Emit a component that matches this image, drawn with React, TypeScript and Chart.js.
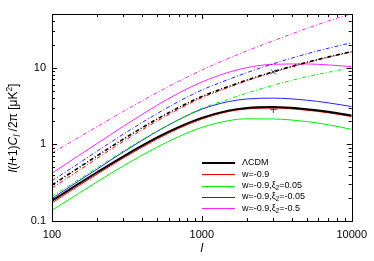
import React, { useEffect, useRef } from "react";
import { Chart, registerables } from "chart.js";

Chart.register(...registerables);

// multipoles
const ells = [100, 150, 200, 300, 500, 700, 1000, 1500, 2000, 3000, 5000, 7000, 10000];

// solid curves
const lcdmSolid = [0.184, 0.304, 0.432, 0.698, 1.22, 1.675, 2.21, 2.75, 2.98, 3.06, 2.87, 2.65, 2.37];
const w09Solid = [0.172, 0.286, 0.408, 0.663, 1.165, 1.608, 2.133, 2.668, 2.891, 2.968, 2.784, 2.571, 2.299];
const xiP05Solid = [0.138, 0.228, 0.324, 0.524, 0.915, 1.256, 1.66, 2.03, 2.15, 2.14, 1.98, 1.8, 1.565];
const xiM05Solid = [0.197, 0.33, 0.475, 0.796, 1.464, 2.09, 2.87, 3.6, 3.9, 4.0, 3.76, 3.47, 3.1];
const xiM5Solid = [0.42, 0.708, 1.025, 1.72, 3.21, 4.65, 6.49, 8.65, 9.99, 11.05, 11.16, 10.84, 10.3];

// dash-dot curves
const lcdmDash = [0.295, 0.492, 0.708, 1.172, 2.12, 3.01, 4.2, 5.66, 6.89, 8.85, 11.7, 13.8, 16.2];
const w09Dash = [0.27, 0.452, 0.655, 1.095, 2.0, 2.87, 4.05, 5.5, 6.75, 8.7, 11.55, 13.65, 16.0];
const xiP05Dash = [0.21, 0.345, 0.495, 0.82, 1.48, 2.1, 2.95, 3.85, 4.65, 5.9, 7.6, 8.7, 10.0];
const xiM05Dash = [0.335, 0.561, 0.814, 1.36, 2.5, 3.61, 5.1, 6.99, 8.61, 11.24, 15.1, 17.9, 21.1];
const xiM5Dash = [0.77, 1.224, 1.7, 2.69, 4.69, 6.61, 9.29, 13.15, 16.55, 22.4, 32.3, 40.6, 50.5];

// single markers
const crossPoint = [{ x: 3000, y: 8.8 }];
const plusPoint = [{ x: 3000, y: 2.85 }];

const legendLabels = ["ΛCDM", "w=-0.9", "w=-0.9,ξ₂=0.05", "w=-0.9,ξ₂=-0.05", "w=-0.9,ξ₂=-0.5"];
const seriesColors = ["#000000", "#ff0000", "#00ee00", "#2222ff", "#ff22ff"];

const xTickValues = [100, 1000, 10000];
const xTickLabels = ["100", "1000", "10000"];
const yTickValues = [0.1, 1, 10];
const yTickLabels = ["0.1", "1", "10"];

const FONT = "'Liberation Sans', Arial, sans-serif";
const DASHDOT = [4, 2, 1, 2];

function pairs(vals: number[]) {
  return vals.map((v, i) => ({ x: ells[i], y: v }));
}

function drawRich(ctx: CanvasRenderingContext2D, text: string, x: number, y: number, size: number) {
  const parts = text.split("₂");
  let cx = x;
  parts.forEach((p, i) => {
    ctx.font = `${size}px ${FONT}`;
    ctx.fillText(p, cx, y);
    cx += ctx.measureText(p).width;
    if (i < parts.length - 1) {
      ctx.font = `${size * 0.7}px ${FONT}`;
      ctx.fillText("2", cx, y + size * 0.3);
      cx += ctx.measureText("2").width;
    }
  });
}

const decorPlugin = {
  id: "decor",
  afterDatasetsDraw(chart: any) {
    const ctx: CanvasRenderingContext2D = chart.ctx;
    const { left, right, top, bottom } = chart.chartArea;
    const xs = chart.scales.x;
    const ys = chart.scales.y;
    ctx.save();
    ctx.strokeStyle = "#000";
    ctx.lineWidth = 1;
    ctx.strokeRect(Math.round(left) + 0.5, Math.round(top) + 0.5, Math.round(right - left), Math.round(bottom - top));
    ctx.beginPath();
    for (let d = 100; d <= 10000; d *= 10) {
      for (let m = 1; m <= 9; m++) {
        const v = d * m;
        if (v > 10000) break;
        const px = Math.round(xs.getPixelForValue(v)) + 0.5;
        const len = m === 1 ? 5 : 3;
        ctx.moveTo(px, bottom);
        ctx.lineTo(px, bottom - len);
        ctx.moveTo(px, top);
        ctx.lineTo(px, top + len);
      }
    }
    for (let d = 0.1; d <= 10.01; d *= 10) {
      for (let m = 1; m <= 9; m++) {
        const v = d * m;
        if (v > 50.01) break;
        const py = Math.round(ys.getPixelForValue(v)) + 0.5;
        const len = m === 1 ? 5 : 3;
        ctx.moveTo(left, py);
        ctx.lineTo(left + len, py);
        ctx.moveTo(right, py);
        ctx.lineTo(right - len, py);
      }
    }
    ctx.stroke();

    // legend
    ctx.fillStyle = "#000";
    ctx.textBaseline = "middle";
    ctx.textAlign = "left";
    const rowY = [163, 174.3, 185.6, 197, 208.3];
    legendLabels.forEach((lab, i) => {
      ctx.beginPath();
      ctx.strokeStyle = seriesColors[i];
      ctx.lineWidth = i === 0 ? 2 : 1;
      const y = i === 0 ? Math.round(rowY[i]) : Math.round(rowY[i]) + 0.5;
      ctx.moveTo(202, y);
      ctx.lineTo(235, y);
      ctx.stroke();
      ctx.fillStyle = "#000";
      drawRich(ctx, lab, 242, rowY[i], 9);
    });

    // x title
    ctx.font = `italic 12px ${FONT}`;
    ctx.textAlign = "center";
    ctx.textBaseline = "alphabetic";
    ctx.fillText("l", (left + right) / 2, 252);

    // y title
    ctx.translate(17, 128);
    ctx.rotate(-Math.PI / 2);
    const size = 12;
    const parts: { t: string; style: string; dy: number; s: number }[] = [
      { t: "l", style: "italic", dy: 0, s: size },
      { t: "(", style: "", dy: 0, s: size },
      { t: "l", style: "italic", dy: 0, s: size },
      { t: "+1)", style: "", dy: 0, s: size },
      { t: "C", style: "italic", dy: 0, s: size },
      { t: "l", style: "italic", dy: 3, s: size * 0.75 },
      { t: " /2π [μK", style: "", dy: 0, s: size },
      { t: "2", style: "", dy: -5, s: size * 0.7 },
      { t: "]", style: "", dy: 0, s: size },
    ];
    let total = 0;
    parts.forEach((p) => {
      ctx.font = `${p.style} ${p.s}px ${FONT}`;
      total += ctx.measureText(p.t).width;
    });
    let cx = -total / 2;
    ctx.textAlign = "left";
    parts.forEach((p) => {
      ctx.font = `${p.style} ${p.s}px ${FONT}`;
      ctx.fillText(p.t, cx, p.dy);
      cx += ctx.measureText(p.t).width;
    });
    ctx.restore();
  },
};

export default function App() {
  const ref = useRef<HTMLCanvasElement | null>(null);
  useEffect(() => {
    if (!ref.current) return;
    const mk = (data: number[], color: string, width: number, dashed: boolean) => ({
      data: pairs(data),
      borderColor: color,
      backgroundColor: color,
      borderWidth: width,
      borderDash: dashed ? DASHDOT : [],
      pointRadius: 0,
      fill: false,
      cubicInterpolationMode: "monotone" as const,
    });
    const chart = new Chart(ref.current, {
      type: "line",
      data: {
        datasets: [
          mk(lcdmSolid, seriesColors[0], 2, false),
          mk(lcdmDash, seriesColors[0], 1.6, true),
          {
            data: crossPoint,
            showLine: false,
            pointStyle: "crossRot",
            pointRadius: 3.5,
            borderColor: "#444",
            borderWidth: 1,
          } as any,
          {
            data: plusPoint,
            showLine: false,
            pointStyle: "cross",
            pointRadius: 3.5,
            borderColor: "#444",
            borderWidth: 1,
          } as any,
          mk(w09Solid, seriesColors[1], 1, false),
          mk(w09Dash, seriesColors[1], 1, true),
          mk(xiP05Solid, seriesColors[2], 1, false),
          mk(xiP05Dash, seriesColors[2], 1, true),
          mk(xiM05Solid, seriesColors[3], 1, false),
          mk(xiM05Dash, seriesColors[3], 1, true),
          mk(xiM5Solid, seriesColors[4], 1, false),
          mk(xiM5Dash, seriesColors[4], 1, true),
        ],
      },
      options: {
        responsive: false,
        animation: false,
        devicePixelRatio: 1,
        layout: { padding: { top: 14, right: 22, left: 0, bottom: 0 } },
        plugins: { legend: { display: false }, tooltip: { enabled: false } },
        scales: {
          x: {
            type: "logarithmic",
            min: 100,
            max: 10000,
            grid: { display: false, drawTicks: false },
            border: { display: false },
            ticks: {
              padding: 7,
              color: "#000",
              font: { family: FONT, size: 11 },
              maxRotation: 0,
              autoSkip: false,
              callback: (v: any) => {
                const i = xTickValues.indexOf(Number(v));
                return i >= 0 ? xTickLabels[i] : "";
              },
            },
            afterBuildTicks: (s: any) => {
              s.ticks = xTickValues.map((v) => ({ value: v }));
            },
            afterFit: (s: any) => {
              s.height = 40;
            },
          },
          y: {
            type: "logarithmic",
            min: 0.1,
            max: 50,
            grid: { display: false, drawTicks: false },
            border: { display: false },
            ticks: {
              padding: 6,
              color: "#000",
              font: { family: FONT, size: 11 },
              autoSkip: false,
              callback: (v: any) => {
                const i = yTickValues.findIndex((t) => Math.abs(t - Number(v)) < 1e-9);
                return i >= 0 ? yTickLabels[i] : "";
              },
            },
            afterBuildTicks: (s: any) => {
              s.ticks = yTickValues.map((v) => ({ value: v }));
            },
            afterFit: (s: any) => {
              s.width = 52;
            },
          },
        },
      } as any,
      plugins: [decorPlugin],
    });
    return () => chart.destroy();
  }, []);
  return (
    <div style={{ position: "absolute", left: 0, top: 0, width: 374, height: 261, background: "#fff" }}>
      <canvas ref={ref} width={374} height={261} />
    </div>
  );
}
